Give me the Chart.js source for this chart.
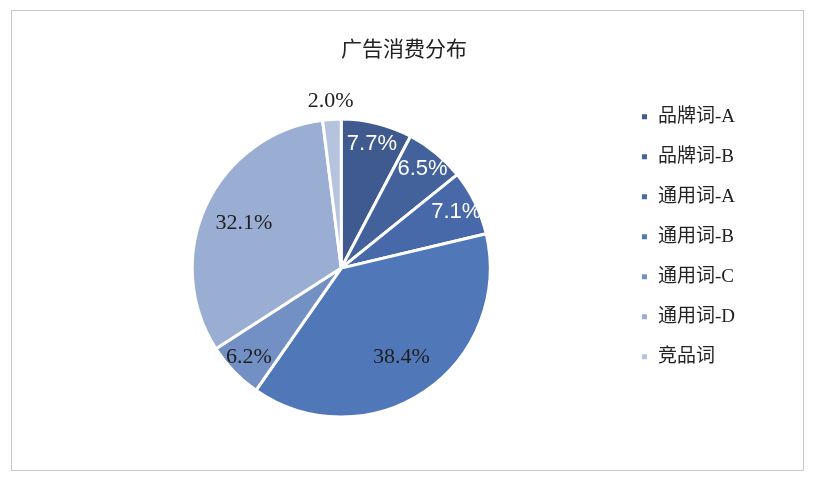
<!DOCTYPE html>
<html>
<head>
<meta charset="utf-8">
<script src="https://cdn.jsdelivr.net/npm/chart.js@4"></script>
<style>
  html, body { margin: 0; padding: 0; background: #fff; }
  #wrap { position: relative; width: 815px; height: 480px; }
  #frame {
    position: absolute; left: 11px; top: 10px; width: 791px; height: 459px;
    border: 1.5px solid #c8c8c8; pointer-events: none;
  }
</style>
</head>
<body>
<div id="wrap">
  <canvas id="chart" width="815" height="480"></canvas>
  <div id="frame"></div>
</div>
<script>
// 广告消费分布 - pie with labels inside slices

const categories = ["品牌词-A", "品牌词-B", "通用词-A", "通用词-B", "通用词-C", "通用词-D", "竞品词"];
const shares = [7.7, 6.5, 7.1, 38.4, 6.2, 32.1, 2.0];
const sliceColors = ["#3e5a8e", "#43619b", "#4869a9", "#5078b8", "#7290c4", "#9aadd2", "#b5c3df"];

const SERIF = '"Liberation Serif", "Noto Sans CJK SC", serif';
const SANS = '"Liberation Sans", "Noto Sans CJK SC", sans-serif';

// draws the percentage labels, white sans on the dark slices, dark serif elsewhere
const sliceLabels = {
  id: "sliceLabels",
  afterDatasetsDraw(chart) {
    const ctx = chart.ctx;
    const meta = chart.getDatasetMeta(0);
    meta.data.forEach((arc, i) => {
      const p = arc.getProps(["x", "y", "startAngle", "endAngle", "outerRadius"], true);
      const mid = (p.startAngle + p.endAngle) / 2;
      const v = shares[i];
      let r;
      if (v < 3) r = p.outerRadius + 18;
      else if (v > 20) r = p.outerRadius * 0.72;
      else r = p.outerRadius * 0.86;
      const x = p.x + Math.cos(mid) * r;
      const y = p.y + Math.sin(mid) * r;
      const light = i < 3;
      ctx.save();
      ctx.font = light ? "22px " + SANS : "22px " + SERIF;
      ctx.fillStyle = light ? "#ffffff" : "#1e1e1e";
      ctx.textAlign = "center";
      ctx.textBaseline = "middle";
      ctx.fillText(v.toFixed(1) + "%", x, y);
      ctx.restore();
    });
  }
};

new Chart(document.getElementById("chart"), {
  type: "pie",
  data: {
    labels: categories,
    datasets: [{
      data: shares,
      backgroundColor: sliceColors,
      borderColor: "#ffffff",
      borderWidth: 3,
      radius: 149
    }]
  },
  options: {
    responsive: false,
    animation: false,
    layout: {
      padding: { top: 10, bottom: 30, left: 63, right: 70 }
    },
    plugins: {
      title: {
        display: true,
        text: "广告消费分布",
        color: "#222",
        font: { family: SERIF, size: 21, weight: "normal" },
        padding: { top: 28, bottom: 23 }
      },
      legend: {
        position: "right",
        align: "start",
        fullSize: false,
        labels: {
          boxWidth: 8,
          boxHeight: 8,
          padding: 21,
          color: "#222",
          font: { family: SERIF, size: 19 }
        }
      },
      tooltip: { enabled: false }
    }
  },
  plugins: [sliceLabels]
});
</script>
</body>
</html>
